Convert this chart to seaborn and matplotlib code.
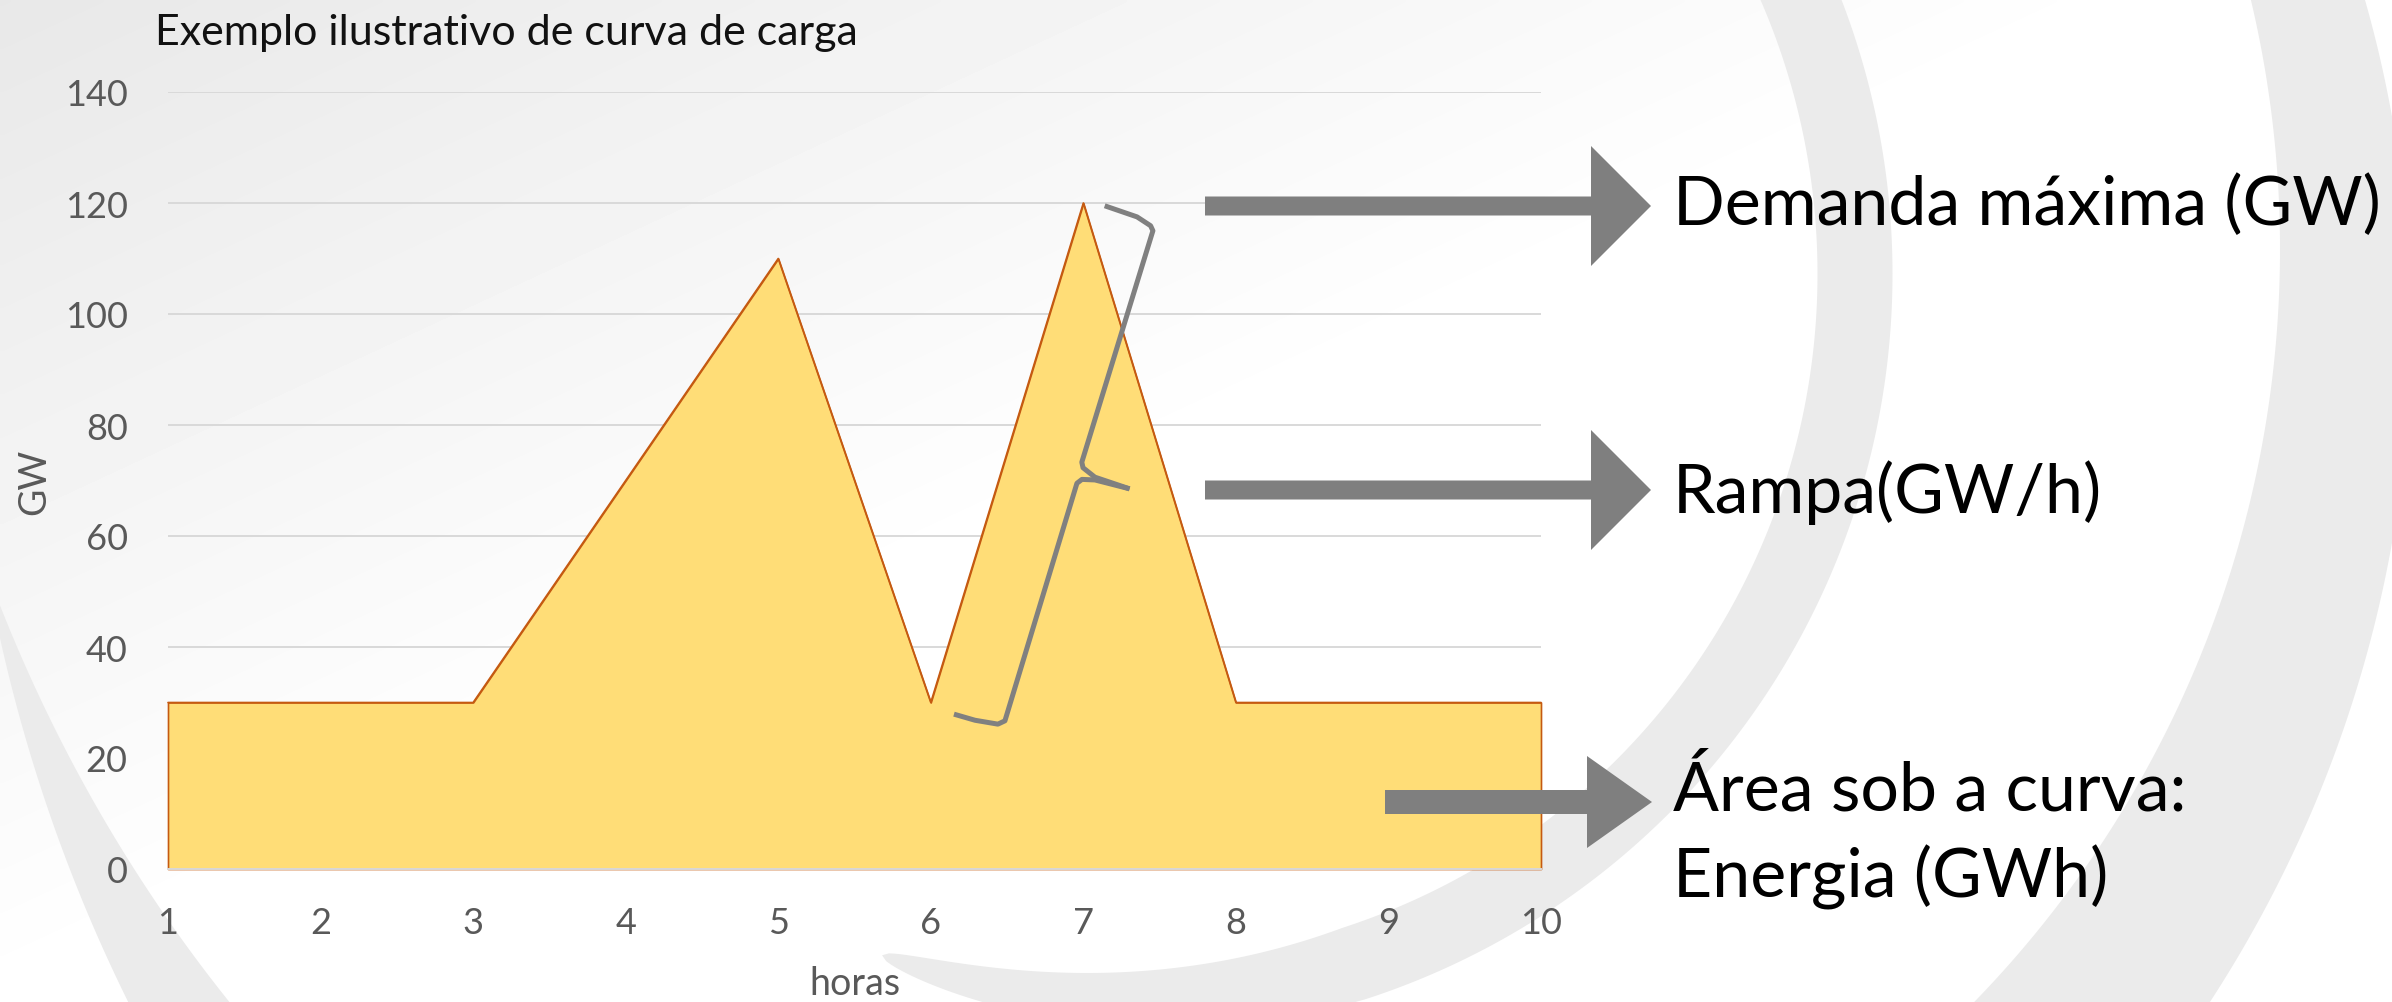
import numpy as np
import matplotlib.pyplot as plt
import seaborn as sns
from matplotlib.patches import Polygon

# Dados da curva de carga
horas = [1, 2, 3, 4, 5, 6, 7, 8, 9, 10]
carga_gw = [30, 30, 30, 70, 110, 30, 120, 30, 30, 30]
y_ticks = [0, 20, 40, 60, 80, 100, 120, 140]

titulo = 'Exemplo ilustrativo de curva de carga'
rotulo_demanda = 'Demanda máxima (GW)'
rotulo_rampa = 'Rampa(GW/h)'
rotulo_area = ['Área sob a curva:', 'Energia (GWh)']

W, H, DPI = 2392, 1003, 100
CINZA_SETA = '#7f7f7f'
CINZA_FUNDO = '#ebebeb'


def faixa(cx, cy, t0, t1, r_in, r_out):
    """Faixa curva do fundo (coordenadas em pixels, y para baixo)"""
    t = np.linspace(t0, t1, 300)
    rad = np.radians(t)
    ri, ro = r_in(t), r_out(t)
    ext = np.c_[cx + ro * np.cos(rad), cy + ro * np.sin(rad)]
    inn = np.c_[cx + ri * np.cos(rad), cy + ri * np.sin(rad)][::-1]
    return Polygon(np.r_[ext, inn], closed=True, fc=CINZA_FUNDO, ec='none')


def seta(x0, x1, xtip, yc, meia_haste, meia_cabeca):
    pts = [(x0, yc - meia_haste), (x1, yc - meia_haste), (x1, yc - meia_cabeca),
           (xtip, yc), (x1, yc + meia_cabeca), (x1, yc + meia_haste), (x0, yc + meia_haste)]
    return Polygon(pts, closed=True, fc=CINZA_SETA, ec='none')


sns.set_theme(style='white')
plt.rcParams['font.family'] = ['Lato', 'DejaVu Sans']

fig = plt.figure(figsize=(W / DPI, H / DPI), dpi=DPI)

# Fundo: degrade + arcos decorativos
bg = fig.add_axes([0, 0, 1, 1], zorder=0)
xx, yy = np.meshgrid(np.linspace(0, 1, 400), np.linspace(0, 1, 170))
s = np.clip((xx + 0.9 * yy) / 0.9, 0, 1)
bg.imshow((232 + 23 * s) / 255, cmap='gray', vmin=0, vmax=1,
          extent=[0, W, H, 0], aspect='auto', interpolation='bilinear')
wA = lambda t: 75 * np.sqrt(np.clip((110 - t) / 38, 0, 1))
bg.add_patch(faixa(1130, 275, -30, 110, lambda t: 725 - wA(t) / 2, lambda t: 725 + wA(t) / 2))
bg.add_patch(faixa(1200, 250, -25, 70, lambda t: 1080 + 0 * t,
                   lambda t: 1190 + 80 * (t + 13) / 57))
bg.add_patch(faixa(1566, 292, 145, 170, lambda t: 1604 - 80 * np.clip((170 - t) / 16, 0, 1.3),
                   lambda t: 1604 + 0 * t))
bg.set_xlim(0, W)
bg.set_ylim(H, 0)
bg.axis('off')

# Grafico principal
ax = fig.add_axes([168 / W, 1 - 870 / H, (1541 - 168) / W, (870 - 93) / H], zorder=1)
ax.patch.set_alpha(0)
ax.fill_between(horas, carga_gw, color='#FFDD77', edgecolor='#C55A11',
                linewidth=1.2, zorder=2, clip_on=False)
sns.lineplot(x=horas, y=carga_gw, color='#C55A11', linewidth=1.2, ax=ax, zorder=3)
for ln in ax.lines:
    ln.set_clip_on(False)

ax.set_xlim(1, 10)
ax.set_ylim(0, 140)
ax.set_xticks(horas)
ax.set_yticks(y_ticks)
ax.grid(axis='y', color='#d9d9d9', linewidth=1.4)
ax.set_axisbelow(True)
for sp in ['top', 'right', 'left']:
    ax.spines[sp].set_visible(False)
ax.spines['bottom'].set_color('#d9d9d9')
ax.spines['bottom'].set_linewidth(1.4)
ax.spines['bottom'].set_zorder(5)
ax.tick_params(axis='both', length=0, labelsize=26, colors='#595959')
ax.tick_params(axis='y', pad=29)
ax.tick_params(axis='x', pad=27)

ax.set_xlabel('horas', fontsize=27, color='#595959')
ax.xaxis.set_label_coords(0.5, (870 - 966) / 777)
ax.set_ylabel('GW', fontsize=27, color='#595959')
ax.yaxis.set_label_coords((52 - 168) / 1373, 0.5)

# Chave indicando a rampa (coordenadas de dados)
chave_sup_x = [7.140, 7.352, 7.441, 7.456, 6.990, 6.998, 7.076, 7.303]
chave_sup_y = [119.5, 117.5, 115.9, 115.0, 73.3, 72.3, 70.6, 68.5]
chave_inf_x = [7.303, 7.076, 6.991, 6.958, 6.486, 6.44, 6.29, 6.152]
chave_inf_y = [68.5, 70.1, 70.2, 69.5, 26.7, 26.1, 26.8, 27.9]
ax.plot(chave_sup_x, chave_sup_y, color='#808080', lw=3.6, zorder=6,
        solid_joinstyle='round', solid_capstyle='butt', clip_on=False)
ax.plot(chave_inf_x, chave_inf_y, color='#808080', lw=3.6, zorder=6,
        solid_joinstyle='round', solid_capstyle='butt', clip_on=False)

# Camada de anotacoes (pixels)
top = fig.add_axes([0, 0, 1, 1], zorder=3)
top.patch.set_alpha(0)
top.add_patch(seta(1205, 1591, 1651, 207, 9.5, 60))
top.add_patch(seta(1205, 1591, 1651, 491, 9.5, 60))
top.add_patch(seta(1385, 1587, 1652, 803, 12, 46))
top.text(1673, 225, rotulo_demanda, fontsize=49, color='black', va='baseline', ha='left')
top.text(1673, 513, rotulo_rampa, fontsize=49, color='black', va='baseline', ha='left')
top.text(1673, 811, rotulo_area[0], fontsize=49, color='black', va='baseline', ha='left')
top.text(1673, 898, rotulo_area[1], fontsize=49, color='black', va='baseline', ha='left')
top.text(155, 14, titulo, fontsize=31, color='#111111', va='top', ha='left')
top.set_xlim(0, W)
top.set_ylim(H, 0)
top.axis('off')

fig.savefig('out.png', dpi=DPI)
plt.close(fig)
